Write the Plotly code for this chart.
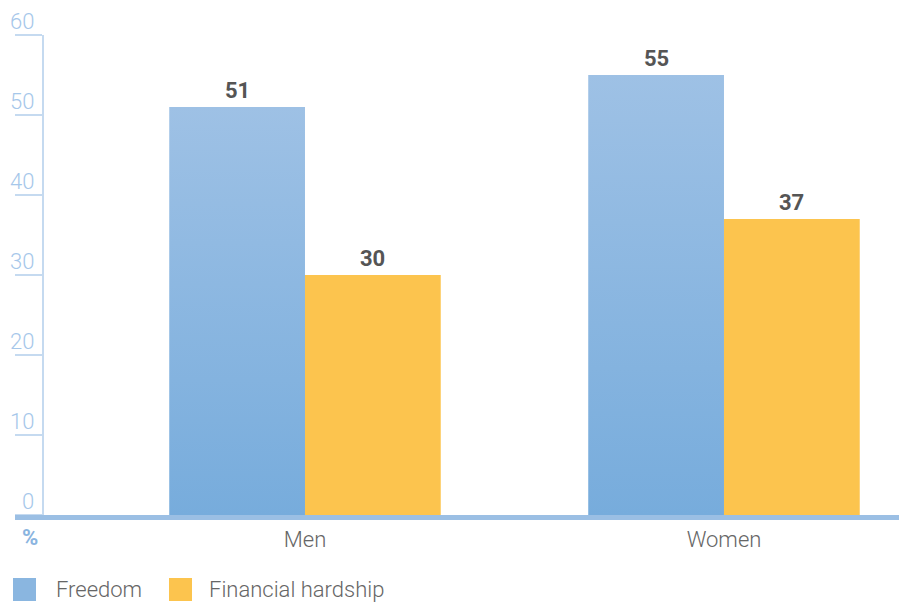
import plotly.graph_objects as go

# Data
categories = ["Men", "Women"]
freedom = [51, 55]
hardship = [30, 37]
series_names = ["Freedom", "Financial hardship"]
y_ticks = [0, 10, 20, 30, 40, 50, 60]

# Styles
BLUE_TOP = "#9ec1e5"
BLUE_BOTTOM = "#77acdc"
YELLOW = "#fcc44e"
AXIS_LIGHT = "#c5daf0"
BASE_BLUE = "#9bbfe4"
TICK_TEXT = "#a6c7ea"
TEXT_GRAY = "#666666"
VALUE_GRAY = "#555555"
FONT = "Roboto"

W, H = 899, 604
M_L, M_R, M_T, M_B = 44, 0, 35, 89
BAR_W = 0.324
X_RANGE = [-0.6229, 1.4177]

fig = go.Figure()


def bar_polygon(x0, x1, v):
    return [x0, x0, x1, x1, x0], [0, v, v, 0, 0]


for i, cat in enumerate(categories):
    # Freedom bar (left of category centre), vertical gradient
    xs, ys = bar_polygon(i - BAR_W, i, freedom[i])
    fig.add_trace(go.Scatter(
        x=xs, y=ys, mode="lines", fill="toself",
        line=dict(width=0, color=BLUE_BOTTOM),
        fillgradient=dict(type="vertical",
                          colorscale=[[0, BLUE_BOTTOM], [1, BLUE_TOP]]),
        name=series_names[0], showlegend=False, hoverinfo="skip"))
    # Financial hardship bar (right of category centre)
    xs, ys = bar_polygon(i, i + BAR_W, hardship[i])
    fig.add_trace(go.Scatter(
        x=xs, y=ys, mode="lines", fill="toself",
        line=dict(width=0, color=YELLOW), fillcolor=YELLOW,
        name=series_names[1], showlegend=False, hoverinfo="skip"))

annotations = []

# Value labels above bars
for i in range(len(categories)):
    for xc, v in ((i - BAR_W / 2, freedom[i]), (i + BAR_W / 2, hardship[i])):
        annotations.append(dict(
            x=xc, y=v, xref="x", yref="y", text=f"<b>{v}</b>",
            showarrow=False, yanchor="bottom", yshift=2,
            font=dict(family=FONT, size=22, color=VALUE_GRAY)))

# Y tick labels sitting above their tick lines
for t in y_ticks:
    annotations.append(dict(
        x=0, y=t, xref="paper", yref="y", text=str(t),
        showarrow=False, xanchor="right", yanchor="bottom",
        xshift=-8, yshift=-1,
        font=dict(family=FONT, size=22, color=TICK_TEXT, weight=300)))

# Unit label
annotations.append(dict(
    x=-14 / 855, y=-22 / 480, xref="paper", yref="paper", text="<b>%</b>",
    showarrow=False, xanchor="center", yanchor="middle",
    font=dict(family=FONT, size=22, color="#8ab4e0")))

# Custom legend: (label, square left edge px, text offset px, colour)
legend_items = [(series_names[0], 13, 41, "#8ab6e0"),
                (series_names[1], 169, 38, YELLOW)]
shapes = []
for name, px, off, col in legend_items:
    x0 = (px - M_L) / 855
    x1 = (px + 23 - M_L) / 855
    y0 = -(578 - M_T) / 480 + 1
    y1 = -(601 - M_T) / 480 + 1
    shapes.append(dict(
        type="rect", xref="paper", yref="paper",
        x0=x0, x1=x1, y0=y1, y1=y0, line=dict(width=0), fillcolor=col))
    annotations.append(dict(
        x=(px + off - M_L) / 855, y=(y0 + y1) / 2, xref="paper", yref="paper",
        text=name, showarrow=False, xanchor="left", yanchor="middle",
        font=dict(family=FONT, size=22, color=TEXT_GRAY, weight=300)))

# Thick baseline under the bars
shapes.append(dict(
    type="line", xref="paper", yref="paper",
    x0=-29 / 855, x1=1.0, y0=-2.5 / 480, y1=-2.5 / 480,
    line=dict(color=BASE_BLUE, width=5), layer="above"))

fig.update_layout(
    width=W, height=H,
    margin=dict(l=M_L, r=M_R, t=M_T, b=M_B),
    paper_bgcolor="white", plot_bgcolor="white",
    showlegend=False,
    annotations=annotations, shapes=shapes,
    xaxis=dict(
        range=X_RANGE, tickvals=list(range(len(categories))),
        ticktext=categories, ticks="", showgrid=False, zeroline=False,
        showline=False, ticklabelstandoff=9,
        tickfont=dict(family=FONT, size=22, color=TEXT_GRAY, weight=300),
        fixedrange=True),
    yaxis=dict(
        range=[0, 60], tickvals=y_ticks, showticklabels=False,
        ticks="outside", ticklen=27, tickwidth=2, tickcolor=AXIS_LIGHT,
        showline=True, linecolor=AXIS_LIGHT, linewidth=2,
        showgrid=False, zeroline=False, fixedrange=True),
)

fig.write_html("out.html")
